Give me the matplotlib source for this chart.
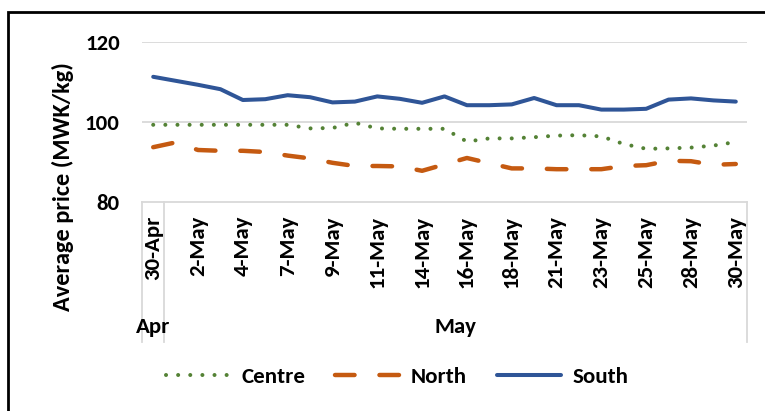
import matplotlib
matplotlib.use("Agg")
import matplotlib.pyplot as plt
from matplotlib.patches import Rectangle
from matplotlib.transforms import blended_transform_factory

plt.rcParams['font.family'] = 'Carlito'
plt.rcParams['font.weight'] = 'bold'

# trading days, 30 Apr - 30 May (Sundays skipped)
dates = ["30-Apr", "1-May", "2-May", "3-May", "4-May", "5-May", "7-May", "8-May",
         "9-May", "10-May", "11-May", "12-May", "14-May", "15-May", "16-May", "17-May",
         "18-May", "19-May", "21-May", "22-May", "23-May", "24-May", "25-May", "26-May",
         "28-May", "29-May", "30-May"]

centre = [99.3, 99.3, 99.3, 99.3, 99.3, 99.3, 99.3, 98.4, 98.5, 99.8, 98.4, 98.3, 98.3, 98.3,
          95.1, 95.9, 95.9, 96.2, 96.6, 96.7, 96.4, 94.5, 93.3, 93.4, 93.6, 94.1, 95.0]
north = [93.7, 94.9, 93.0, 92.8, 92.8, 92.5, 91.6, 90.9, 89.8, 89.0, 89.0, 88.9, 87.8, 89.4,
         91.0, 89.7, 88.4, 88.4, 88.2, 88.2, 88.2, 89.0, 89.2, 90.3, 90.2, 89.3, 89.5]
south = [111.3, 110.3, 109.3, 108.2, 105.5, 105.7, 106.7, 106.2, 104.9, 105.1, 106.4, 105.8,
         104.8, 106.4, 104.2, 104.2, 104.4, 106.0, 104.2, 104.2, 103.1, 103.1, 103.3, 105.6,
         105.9, 105.4, 105.1]

months = ["Apr", "May"]
month_span = [(0, 0), (1, 26)]  # first and last category index of each month

W, H = 765, 411
fig = plt.figure(figsize=(W / 100, H / 100), dpi=100)
ax = fig.add_axes([142 / W, 1 - 202 / H, 605 / W, 160 / H])

x = list(range(len(dates)))
grid_col = "#D9D9D9"
fs = 16.5

l_c, = ax.plot(x, centre, color="#548235", lw=2.9, linestyle=(0, (0.01, 3.0)),
               dash_capstyle="round", label="Centre")
l_n, = ax.plot(x, north, color="#C55A11", lw=3.2, linestyle=(0, (4.4, 5.6)),
               dash_capstyle="round", label="North")
l_s, = ax.plot(x, south, color="#2F5597", lw=2.9, solid_capstyle="round", label="South")

ax.set_xlim(-0.5, len(dates) - 0.5)
ax.set_ylim(80, 120)
ax.set_yticks([80, 100, 120])
ax.tick_params(axis="y", length=0, pad=16, labelsize=fs)
for v in [100, 120]:
    ax.axhline(v, color=grid_col, lw=1.3, zorder=0)

for s in ["top", "right", "left"]:
    ax.spines[s].set_visible(False)
ax.spines["bottom"].set_color(grid_col)
ax.spines["bottom"].set_linewidth(1.3)

ax.set_xticks(x[::2])
ax.set_xticklabels(dates[::2], rotation=90, va="top", ha="center", fontweight="bold")
for t in ax.get_yticklabels():
    t.set_fontweight("bold")
ax.tick_params(axis="x", length=0, pad=10, labelsize=fs)

# label sits lower than the plot centre, spanning plot + category area
ax.set_ylabel("Average price (MWK/kg)", fontsize=17.5, fontweight="bold")
ax.yaxis.set_label_coords(-0.113, 0.094)

# multi-level category axis: month group lines and labels
tr = blended_transform_factory(ax.transData, ax.transAxes)
for xb in [-0.5, 0.5, len(dates) - 0.5]:
    ax.plot([xb, xb], [0, -0.875], color=grid_col, lw=1.3, transform=tr, clip_on=False)
for m, (a, b) in zip(months, month_span):
    ax.text((a + b) / 2, -0.78, m, transform=tr, ha="center", va="center",
            fontsize=fs, fontweight="bold")

fig.legend(handles=[l_c, l_n, l_s], loc="center", bbox_to_anchor=(397 / W, 1 - 377 / H),
           ncol=3, frameon=False, prop={"size": fs, "weight": "bold"},
           handlelength=2.8, handletextpad=0.5, columnspacing=1.3)

# outer frame of the figure box
fig.patches.append(Rectangle((8 / W, -0.5), 2, 0.5 + 1 - 12 / H, transform=fig.transFigure,
                             fill=False, edgecolor="black", lw=2, clip_on=False))

plt.savefig("out.png", dpi=100)
plt.close()
